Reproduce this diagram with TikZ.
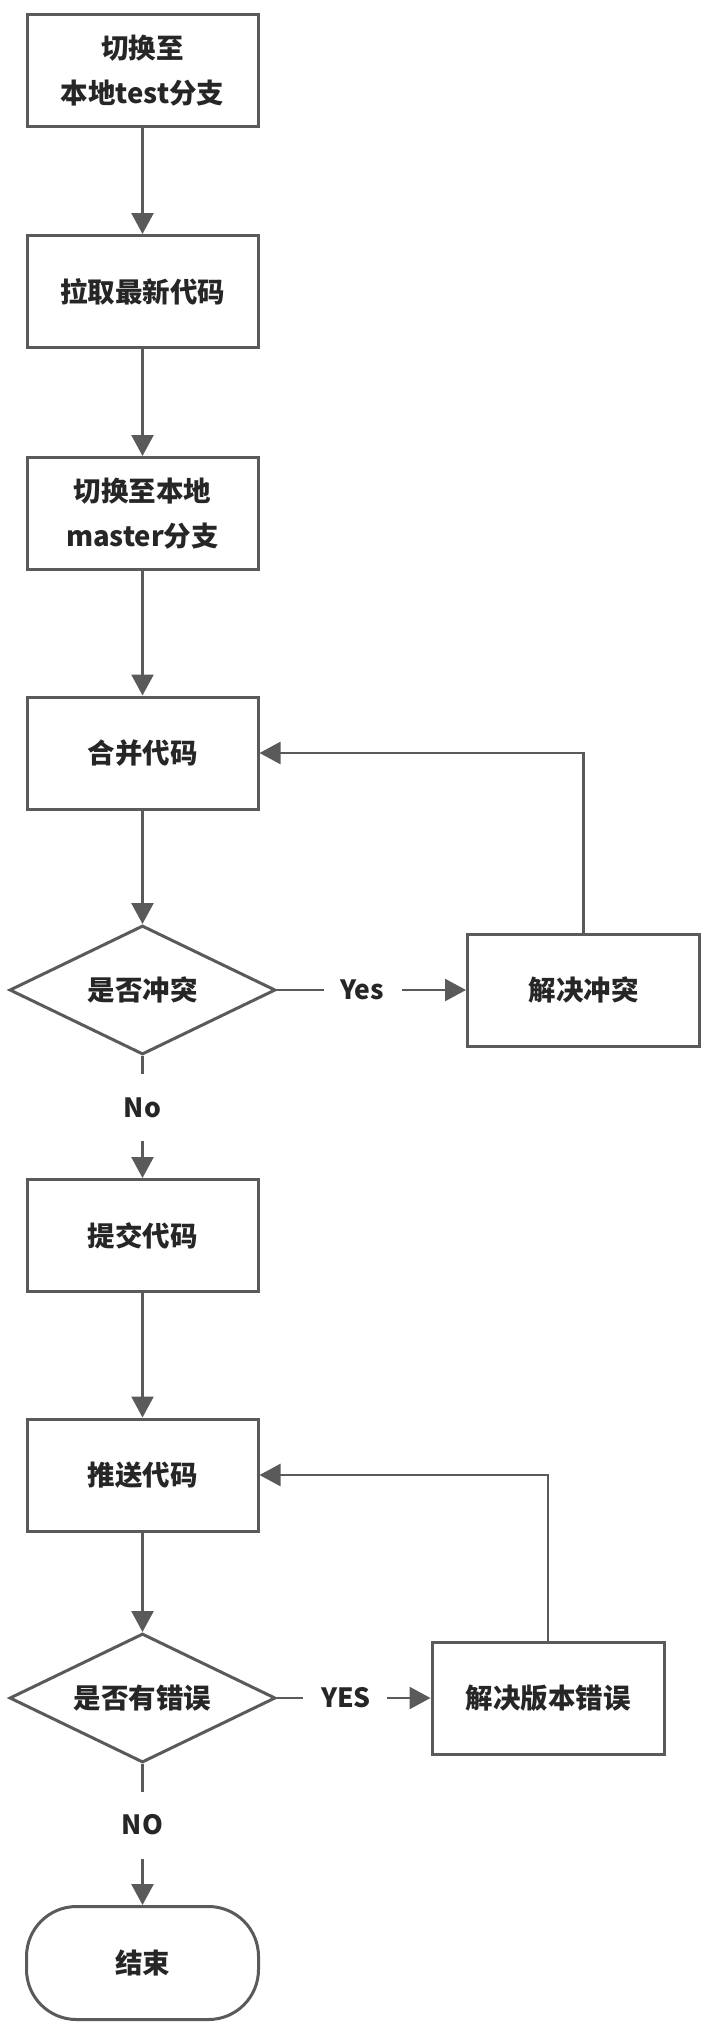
\documentclass[tikz,border=0pt]{standalone}
\usepackage{fontspec}
\newfontfamily\cjk{Noto Sans CJK SC}
\usetikzlibrary{shapes.geometric,arrows.meta}
\definecolor{linegray}{HTML}{5A5A5A}
\definecolor{txt}{HTML}{262626}
\tikzset{
  base/.style={draw=linegray, line width=3pt, fill=white, text=txt, inner sep=0pt,
    font=\cjk\bfseries\fontsize{27.5}{45}\selectfont, align=center},
  procbox/.style={base, rectangle, minimum width=231pt, minimum height=112pt},
  decbox/.style={base, diamond, aspect=2, minimum width=266pt, minimum height=129pt},
  termbox/.style={base, rectangle, rounded corners=50pt, minimum width=232pt, minimum height=113pt},
  lbl/.style={text=txt, inner sep=0pt, font=\cjk\bfseries\fontsize{26.5}{30}\selectfont},
  conn/.style={draw=linegray, line width=2.6pt},
  arr/.style={conn, -{Triangle[length=21pt,width=22pt]}}
}
\begin{document}
\begin{tikzpicture}[x=1pt,y=-1pt]
\useasboundingbox (0,0) rectangle (706,2034);
\node[procbox] (b1) at (142.5,70.5) {切换至\\本地test分支};
\node[procbox] (b2) at (142.5,291.5) {拉取最新代码};
\node[procbox] (b3) at (142.5,513.5) {切换至本地\\master分支};
\node[procbox] (b4) at (142.5,753) {合并代码};
\node[decbox] (d1) at (142.5,990) {是否冲突};
\node[procbox, minimum width=232pt] (r1) at (583.5,990) {解决冲突};
\node[procbox] (b5) at (142.5,1235.5) {提交代码};
\node[procbox] (b6) at (142.5,1475) {推送代码};
\node[decbox] (d2) at (142.5,1698) {是否有错误};
\node[procbox, minimum width=232pt] (r2) at (548,1698) {解决版本错误};
\node[termbox] (e) at (142.5,1963) {结束};

\node[lbl] (yes1) at (362,990) {Yes};
\node[lbl] (no1) at (142.5,1108) {No};
\node[lbl] (yes2) at (346,1698) {YES};
\node[lbl] (no2) at (142.5,1825) {NO};

\coordinate (y1a) at (324,990);
\coordinate (y1b) at (402,990);
\coordinate (n1a) at (142.5,1074);
\coordinate (n1b) at (142.5,1141);
\coordinate (y2a) at (303,1698);
\coordinate (y2b) at (387,1698);
\coordinate (n2a) at (142.5,1792);
\coordinate (n2b) at (142.5,1859);

\draw[arr] (b1) -- (b2);
\draw[arr] (b2) -- (b3);
\draw[arr] (b3) -- (b4);
\draw[arr] (b4) -- (d1);
\draw[conn] (d1.east) -- (y1a);
\draw[arr] (y1b) -- (r1.west);
\draw[arr] (r1.north) |- (b4.east);
\draw[conn] (d1.south) -- (n1a);
\draw[arr] (n1b) -- (b5.north);
\draw[arr] (b5) -- (b6);
\draw[arr] (b6) -- (d2);
\draw[conn] (d2.east) -- (y2a);
\draw[arr] (y2b) -- (r2.west);
\draw[arr] (r2.north) |- (b6.east);
\draw[conn] (d2.south) -- (n2a);
\draw[arr] (n2b) -- (e.north);
\end{tikzpicture}
\end{document}
